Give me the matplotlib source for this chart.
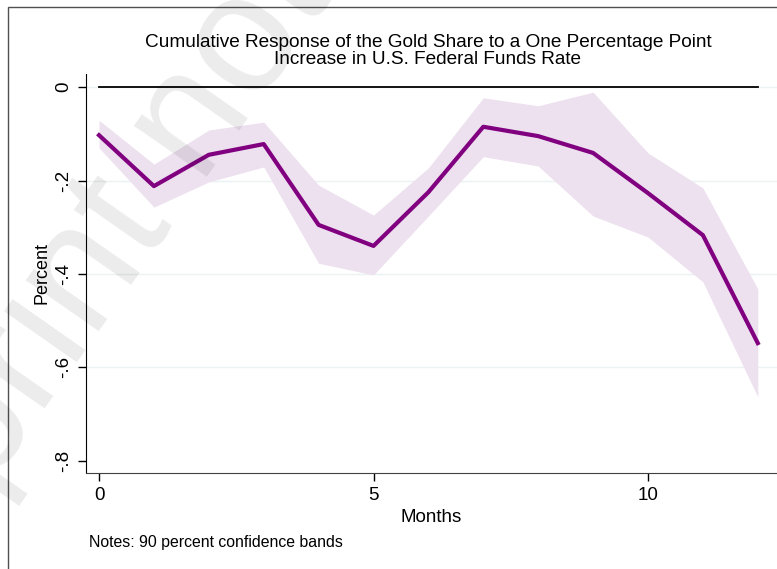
import matplotlib
matplotlib.use("Agg")
import matplotlib.pyplot as plt
from matplotlib.patches import Rectangle

plt.rcParams['font.family'] = ['Liberation Sans', 'DejaVu Sans']

months = [0, 1, 2, 3, 4, 5, 6, 7, 8, 9, 10, 11, 12]
response = [-0.103, -0.212, -0.145, -0.122, -0.295, -0.340, -0.225,
            -0.085, -0.105, -0.141, -0.227, -0.317, -0.548]
upper = [-0.071, -0.165, -0.092, -0.075, -0.210, -0.274, -0.173,
         -0.023, -0.040, -0.011, -0.141, -0.216, -0.432]
lower = [-0.130, -0.257, -0.203, -0.171, -0.377, -0.402, -0.276,
         -0.149, -0.169, -0.276, -0.321, -0.417, -0.663]

yticks = [0, -0.2, -0.4, -0.6, -0.8]
ytick_labels = ['0', '-.2', '-.4', '-.6', '-.8']
xticks = [0, 5, 10]
grid_levels = [0, -0.2, -0.4, -0.6]

fig = plt.figure(figsize=(7.77, 5.69), dpi=100)
ax = fig.add_axes([0.1107, 0.1687, 0.8893, 0.7013])

# outer graph frame (cropped on the right and bottom)
fig.patches.append(Rectangle((8 / 777, -0.1), 1.2, 1.1 - 7 / 569,
                             transform=fig.transFigure, fill=False,
                             edgecolor='#505050', linewidth=1.0))

for g in grid_levels:
    ax.axhline(g, color='#eaf2f3', linewidth=1.0, zorder=0)

ax.fill_between(months, lower, upper, color='#ede0ef', linewidth=0, zorder=1)
ax.plot([months[0], months[-1]], [0, 0], color='black', linewidth=1.3, zorder=2)
ax.plot(months, response, color='#800080', linewidth=3.0, zorder=3)

ax.set_xlim(-0.237, 12.35)
ax.set_ylim(-0.826, 0.028)
ax.set_yticks(yticks)
ax.set_yticklabels(ytick_labels, rotation=90, va='center')
ax.set_xticks(xticks)
ax.tick_params(axis='both', direction='out', length=6, width=1, labelsize=13.5,
               colors='black', pad=4)

for side in ['top', 'right']:
    ax.spines[side].set_visible(False)
ax.spines['left'].set_color('black')
ax.spines['bottom'].set_color('#404040')

ax.set_xlabel('Months', fontsize=13.5, labelpad=4)
ax.set_ylabel('Percent', fontsize=13, labelpad=3)

fig.text(428 / 777, 1 - 34 / 569,
         'Cumulative Response of the Gold Share to a One Percentage Point\n'
         'Increase in U.S. Federal Funds Rate',
         ha='center', va='top', fontsize=13.7, linespacing=1.0)

fig.text(89 / 777, 1 - 543 / 569, 'Notes: 90 percent confidence bands',
         ha='left', va='center', fontsize=11.4)

# watermark
fig.text(-0.215, -0.25, 'Preprint not peer reviewed', transform=fig.transFigure,
         rotation=55, rotation_mode='anchor', ha='left', va='baseline',
         fontsize=122, color='black', alpha=0.08, zorder=10)

fig.savefig('out.png', dpi=100)
